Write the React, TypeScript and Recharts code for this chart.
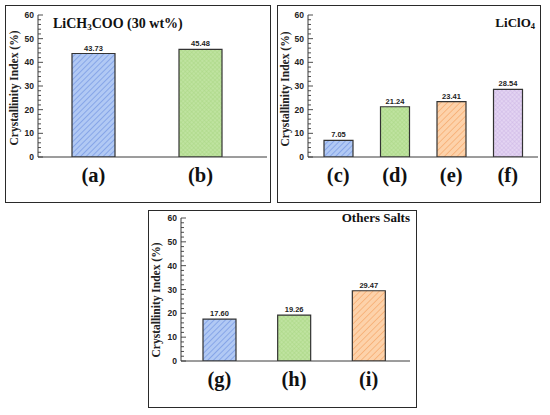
import React from 'react';
import { BarChart, Bar, XAxis, YAxis, Cell, LabelList } from 'recharts';

// ---------- data ----------
const panelACategories = ['(a)', '(b)'];
const panelAValues = [43.73, 45.48];
const panelBCategories = ['(c)', '(d)', '(e)', '(f)'];
const panelBValues = [7.05, 21.24, 23.41, 28.54];
const panelCCategories = ['(g)', '(h)', '(i)'];
const panelCValues = [17.6, 19.26, 29.47];
const yTicks = [0, 2, 4, 6, 8, 10, 12, 14, 16, 18, 20, 22, 24, 26, 28, 30, 32, 34, 36, 38, 40, 42, 44, 46, 48, 50, 52, 54, 56, 58, 60];
const yMajorLabels = [0, 10, 20, 30, 40, 50, 60];
const yTitle = 'Crystallinity Index (%)';

// ---------- styles ----------
const panelAFills = ['blue', 'green'];
const panelBFills = ['blue', 'green', 'orange', 'purple'];
const panelCFills = ['blue', 'green', 'orange'];

const SERIF = '"Liberation Serif", "Times New Roman", serif';
const SANS = '"Liberation Sans", Arial, sans-serif';
const AXIS = '#3a3a3a';

const Patterns = () => (
  <svg width={0} height={0} style={{ position: 'absolute' }}>
    <defs>
      <pattern id="pat-blue" patternUnits="userSpaceOnUse" width={4} height={4} patternTransform="rotate(45)">
        <rect width={4} height={4} fill="#b1c9f4" />
        <line x1={0} y1={0} x2={0} y2={4} stroke="#7c9de6" strokeWidth={1.6} />
      </pattern>
      <pattern id="pat-green" patternUnits="userSpaceOnUse" width={3} height={3} patternTransform="rotate(45)">
        <rect width={3} height={3} fill="#bfe3a0" />
        <line x1={0} y1={0} x2={0} y2={3} stroke="#a6d580" strokeWidth={0.8} />
        <line x1={0} y1={0} x2={3} y2={0} stroke="#a6d580" strokeWidth={0.8} />
      </pattern>
      <pattern id="pat-orange" patternUnits="userSpaceOnUse" width={4.5} height={4.5} patternTransform="rotate(45)">
        <rect width={4.5} height={4.5} fill="#fdd2aa" />
        <line x1={0} y1={0} x2={0} y2={4.5} stroke="#f6ac70" strokeWidth={1.5} />
      </pattern>
      <pattern id="pat-purple" patternUnits="userSpaceOnUse" width={3} height={3} patternTransform="rotate(45)">
        <rect width={3} height={3} fill="#e3d4f2" />
        <line x1={0} y1={0} x2={0} y2={3} stroke="#cbb3e4" strokeWidth={0.8} />
        <line x1={0} y1={0} x2={3} y2={0} stroke="#cbb3e4" strokeWidth={0.8} />
      </pattern>
    </defs>
  </svg>
);

const YTick = (props: any) => {
  const { x, y, payload } = props;
  const v = payload.value;
  const major = yMajorLabels.includes(v);
  return (
    <g>
      <line x1={x} x2={x + (major ? 5 : 3)} y1={y} y2={y} stroke={AXIS} strokeWidth={0.9} />
      {major && (
        <text x={x - 4} y={y} dy={3} textAnchor="end" fontFamily={SANS} fontWeight="bold" fontSize={8.5} fill="#222">
          {v}
        </text>
      )}
    </g>
  );
};

const XTick = (props: any) => {
  const { x, y, payload } = props;
  return (
    <text x={x} y={y + 25} textAnchor="middle" fontFamily={SERIF} fontWeight="bold" fontSize={20.5} fill="#111">
      {payload.value}
    </text>
  );
};

type PanelProps = {
  left: number;
  top: number;
  width: number;
  height: number;
  categories: string[];
  values: number[];
  fills: string[];
  margin: { top: number; right: number; left: number; bottom: number };
  yWidth: number;
  xHeight: number;
  padding: { left: number; right: number };
  barSize: number;
  yTitlePos: [number, number];
  title: React.ReactNode;
};

const Panel = (p: PanelProps) => {
  const data = p.categories.map((c, i) => ({ cat: c, value: p.values[i] }));
  return (
    <div style={{ position: 'absolute', left: p.left, top: p.top, width: p.width, height: p.height }}>
      <BarChart width={p.width} height={p.height} data={data} margin={p.margin} barCategoryGap={0}>
        <XAxis
          dataKey="cat"
          type="category"
          axisLine={{ stroke: AXIS, strokeWidth: 1 }}
          tickLine={false}
          tickSize={0}
          tickMargin={0}
          tick={<XTick />}
          interval={0}
          height={p.xHeight}
          padding={p.padding}
        />
        <YAxis
          domain={[0, 60]}
          ticks={yTicks}
          interval={0}
          width={p.yWidth}
          axisLine={{ stroke: AXIS, strokeWidth: 1 }}
          tickLine={false}
          tickSize={0}
          tickMargin={0}
          tick={<YTick />}
          allowDataOverflow
        />
        <Bar dataKey="value" barSize={p.barSize} stroke="#333" strokeWidth={1.2} isAnimationActive={false}>
          {data.map((d, i) => (
            <Cell key={d.cat} fill={`url(#pat-${p.fills[i]})`} />
          ))}
          <LabelList
            dataKey="value"
            position="top"
            offset={3}
            formatter={(v: any) => Number(v).toFixed(2)}
            style={{ fontFamily: SANS, fontWeight: 'bold', fontSize: 7.5, fill: '#222' }}
          />
        </Bar>
      </BarChart>
      <svg width={p.width} height={p.height} style={{ position: 'absolute', left: 0, top: 0, pointerEvents: 'none' }}>
        <text
          x={p.yTitlePos[0]}
          y={p.yTitlePos[1]}
          transform={`rotate(-90 ${p.yTitlePos[0]} ${p.yTitlePos[1]})`}
          textAnchor="middle"
          dy={4}
          fontFamily={SERIF}
          fontWeight="bold"
          fontSize={11.5}
          fill="#222"
        >
          {yTitle}
        </text>
        {p.title}
      </svg>
      <div
        style={{
          position: 'absolute',
          left: 0,
          top: 0,
          width: p.width,
          height: p.height,
          border: '1.5px solid #2a2a2a',
          boxSizing: 'border-box',
          pointerEvents: 'none',
        }}
      />
    </div>
  );
};

export default function App() {
  return (
    <div style={{ position: 'absolute', left: 0, top: 0, width: 550, height: 415, background: '#fff', overflow: 'hidden' }}>
      <Patterns />
      <Panel
        left={5}
        top={5}
        width={266}
        height={198}
        categories={panelACategories}
        values={panelAValues}
        fills={panelAFills}
        margin={{ top: 10, right: 4, left: 0, bottom: 0 }}
        yWidth={33}
        xHeight={46}
        padding={{ left: 2, right: 13 }}
        barSize={43}
        yTitlePos={[8.5, 83]}
        title={
          <text x={48} y={23} fontFamily={SERIF} fontWeight="bold" fontSize={14} fill="#111">
            LiCH
            <tspan fontSize={9} dy={1.5}>3</tspan>
            <tspan dy={-1.5}>COO (30 wt%)</tspan>
          </text>
        }
      />
      <Panel
        left={277}
        top={5}
        width={264}
        height={198}
        categories={panelBCategories}
        values={panelBValues}
        fills={panelBFills}
        margin={{ top: 10, right: 3, left: 0, bottom: 0 }}
        yWidth={31}
        xHeight={46}
        padding={{ left: 2, right: 2 }}
        barSize={29}
        yTitlePos={[8, 84]}
        title={
          <text x={258} y={22} textAnchor="end" fontFamily={SERIF} fontWeight="bold" fontSize={13} fill="#111">
            LiClO
            <tspan fontSize={8.5} dy={1.5}>4</tspan>
          </text>
        }
      />
      <Panel
        left={148}
        top={210}
        width={269}
        height={198}
        categories={panelCCategories}
        values={panelCValues}
        fills={panelCFills}
        margin={{ top: 8, right: 7, left: 0, bottom: 0 }}
        yWidth={33}
        xHeight={47}
        padding={{ left: 1, right: 4 }}
        barSize={33}
        yTitlePos={[8, 90]}
        title={
          <text x={262} y={12} textAnchor="end" fontFamily={SERIF} fontWeight="bold" fontSize={13} fill="#111">
            Others Salts
          </text>
        }
      />
    </div>
  );
}
